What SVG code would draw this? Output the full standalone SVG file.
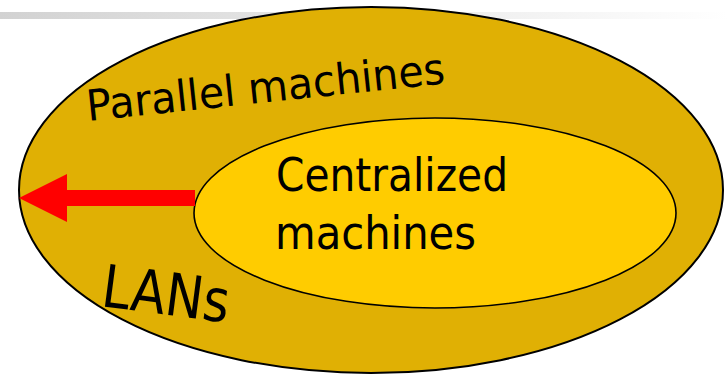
<svg xmlns="http://www.w3.org/2000/svg" width="728" height="376" viewBox="0 0 728 376">
  <defs>
    <linearGradient id="barFade" x1="0" y1="0" x2="1" y2="0">
      <stop offset="0" stop-color="#d2d2d2"/>
      <stop offset="1" stop-color="#ffffff"/>
    </linearGradient>
  </defs>
  <style>
    .label { font-family: "DejaVu Sans", Verdana, sans-serif; fill: #000000; }
    .outer { fill: #e0b004; stroke: #000000; stroke-width: 2; }
    .inner { fill: #ffcc00; stroke: #000000; stroke-width: 1.6; }
    .arrow { fill: #ff0000; }
  </style>
  <rect width="728" height="376" fill="#ffffff"/>
  <!-- header rule fading to the right -->
  <rect x="0" y="12" width="728" height="7" fill="url(#barFade)"/>

  <g id="parallel-machines">
    <ellipse class="outer" cx="371" cy="190" rx="352" ry="183"/>
    <text class="label" font-size="43" textLength="360" lengthAdjust="spacingAndGlyphs" transform="translate(88,121) rotate(-6)">Parallel machines</text>
  </g>

  <g id="lans">
    <text class="label" font-size="59" textLength="128" lengthAdjust="spacingAndGlyphs" transform="translate(100,306) rotate(7.5)">LANs</text>
  </g>

  <g id="centralized-machines">
    <ellipse class="inner" cx="435" cy="213" rx="241" ry="95"/>
    <text class="label" font-size="46" x="276" y="191" textLength="232" lengthAdjust="spacingAndGlyphs">Centralized</text>
    <text class="label" font-size="46" x="275" y="249" textLength="201" lengthAdjust="spacingAndGlyphs">machines</text>
  </g>

  <g id="connectors">
    <polygon class="arrow" points="195,190 67,190 67,174 19,198 67,222 67,206 195,206"/>
  </g>
</svg>
